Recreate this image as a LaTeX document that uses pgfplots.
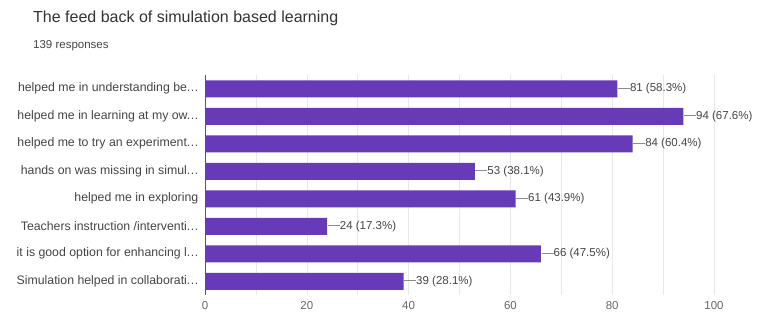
\documentclass[border=0pt]{standalone}
\usepackage{pgfplots}
\pgfplotsset{compat=1.18}
\usepackage{fontspec}
\setmainfont{Liberation Sans}
\definecolor{barpurple}{HTML}{673AB7}
\definecolor{txtgray}{HTML}{444444}
\definecolor{gridgray}{HTML}{E8E8E8}
\newcommand{\ddd}{.\kern0.5pt.\kern0.5pt.}
\begin{document}
\begin{tikzpicture}[x=1bp,y=1bp]
\path[use as bounding box] (0,0) rectangle (761,313);
\node[anchor=base west, font=\fontsize{16bp}{18bp}\selectfont, text=black!80, inner sep=0] at (33,291) {The feed back of simulation based learning};
\node[anchor=base west, font=\fontsize{11.5bp}{13bp}\selectfont, text=txtgray, inner sep=0] at (33,265) {139 responses};
\begin{axis}[
  at={(205bp,18bp)}, anchor=south west,
  scale only axis, width=509bp, height=220bp,
  xmin=0, xmax=100, ymin=-0.5, ymax=7.5,
  y dir=reverse,
  xbar, bar width=17bp,
  xtick={0,20,40,60,80,100},
  minor xtick={10,30,50,70,90},
  xmajorgrids, xminorgrids,
  major grid style={draw=gridgray, line width=0.6pt},
  minor grid style={draw=gridgray, line width=0.6pt},
  axis line style={draw=none},
  tick style={draw=none},
  ytick={0,1,2,3,4,5,6,7},
  yticklabels={{helped me in understanding be\ddd},{helped me in learning at my ow\ddd},{helped me to try an experiment\ddd},{hands on was missing in simul\ddd},{helped me in exploring},{Teachers instruction /interventi\ddd},{it is good option for enhancing l\ddd},{Simulation helped in collaborati\ddd}},
  yticklabel style={font=\fontsize{12.3bp}{14bp}\selectfont, text=txtgray, xshift=1bp},
  xticklabel style={font=\fontsize{11.5bp}{13bp}\selectfont, text=black!60, yshift=-3bp},
  /pgf/number format/assume math mode=true,
  extra x ticks={0}, extra x tick labels={},
  extra x tick style={grid=major, major grid style={draw=black!65, line width=0.9pt}},
  point meta=explicit symbolic,
  nodes near coords={\textcolor{black!45}{\rule[0.6ex]{12bp}{0.5pt}}\textcolor{txtgray}{\pgfplotspointmeta}},
  nodes near coords style={font=\fontsize{11.5bp}{13bp}\selectfont, anchor=west, inner sep=0pt, xshift=0.5bp},
  clip=false,
]
\addplot[fill=barpurple, draw=none] coordinates {
 (81,0) [81 (58.3\%)]
 (94,1) [94 (67.6\%)]
 (84,2) [84 (60.4\%)]
 (53,3) [53 (38.1\%)]
 (61,4) [61 (43.9\%)]
 (24,5) [24 (17.3\%)]
 (66,6) [66 (47.5\%)]
 (39,7) [39 (28.1\%)]
};
\end{axis}
\end{tikzpicture}
\end{document}
